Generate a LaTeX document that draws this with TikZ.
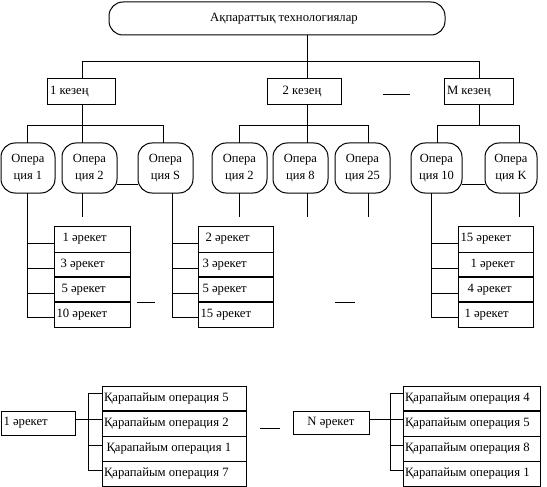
\documentclass[tikz,border=0pt]{standalone}
\usepackage{fontspec}
\setmainfont{Liberation Serif}
\begin{document}
\begin{tikzpicture}[x=1pt,y=-1pt,line width=1pt,font=\fontsize{12.7}{14}\selectfont,
  box/.style={draw,anchor=north west,inner sep=0pt,outer sep=0pt},
  ovalbox/.style={box,rounded corners=14pt,align=center,minimum width=#1,minimum height=50,font=\fontsize{12.5}{17.5}\selectfont},
  txt/.style={anchor=west,inner sep=0pt},
  sepline/.style={line width=1.8pt}]
\useasboundingbox (0,0) rectangle (547,487);

% top
\node[box,rounded corners=14pt,minimum width=336,minimum height=33] (top) at (109,2) {};
\node[inner sep=0pt] (topt) at ([xshift=7pt]top.center) {Ақпараттық технологиялар};

% stages
\node[box,minimum width=68,minimum height=26] (s1) at (47,78.5) {};
\node[txt] (s1t) at ([xshift=2.5pt]s1.west) {1 кезең};
\node[box,minimum width=74,minimum height=26] (s2) at (267,78.5) {};
\node[inner sep=0pt] (s2t) at ([xshift=-2pt]s2.center) {2 кезең};
\node[box,minimum width=69,minimum height=26] (sM) at (444,78.5) {};
\node[txt] (sMt) at ([xshift=2.5pt]sM.west) {M кезең};
\coordinate (ds1) at (383,95); \coordinate (ds2) at (410,95);
\draw (ds1) -- (ds2);

\coordinate (b0L) at (82,62); \coordinate (b0M) at (307,62); \coordinate (b0R) at (479,62);
\draw (top.south -| b0M) -- (b0M);
\draw (s1.north -| b0L) -- (b0L) -- (b0R) -- (sM.north -| b0R);
\draw (s2.north -| b0M) -- (b0M);

% operations
\node[ovalbox=54] (o1) at (1,143) {Опера\\ция 1};
\node[ovalbox=55] (o2) at (62,143) {Опера\\ция 2};
\node[ovalbox=55] (oS) at (138,143) {Опера\\ция S};
\node[ovalbox=55] (o2b) at (212,143) {Опера\\ция 2};
\node[ovalbox=55] (o8) at (273,143) {Опера\\ция 8};
\node[ovalbox=55] (o25) at (335,143) {Опера\\ция 25};
\node[ovalbox=51] (o10) at (411,143) {Опера\\ция 10};
\node[ovalbox=52] (oK) at (485,143) {Опера\\ция K};

% level-2 buses
\coordinate (b1L) at (27,126); \coordinate (b1M) at (82,126); \coordinate (b1R) at (163,126);
\draw (s1.south -| b1M) -- (b1M);
\draw (o1.north -| b1L) -- (b1L) -- (b1R) -- (oS.north -| b1R);
\draw (o2.north -| b1M) -- (b1M);
\coordinate (b2L) at (239,126); \coordinate (b2M) at (307,126); \coordinate (b2R) at (368,126);
\draw (s2.south -| b2M) -- (b2M);
\draw (o2b.north -| b2L) -- (b2L) -- (b2R) -- (o25.north -| b2R);
\draw (o8.north -| b2M) -- (b2M);
\coordinate (b3L) at (437,126); \coordinate (b3M) at (479,126); \coordinate (b3R) at (519,126);
\draw (sM.south -| b3M) -- (b3M);
\draw (o10.north -| b3L) -- (b3L) -- (b3R) -- (oK.north -| b3R);

% dashes between ovals
\draw ([yshift=-16pt]o2.east) -- ([yshift=-16pt]oS.west);
\draw ([yshift=-16pt]o10.east) -- ([yshift=-16pt]oK.west);

% short stubs below ovals
\coordinate (t2) at (82,217); \coordinate (t2b) at (239,217); \coordinate (t8) at (307,217);
\coordinate (t25) at (368,217); \coordinate (tK) at (519,217);
\draw (o2.south -| t2) -- (t2);
\draw (o2b.south -| t2b) -- (t2b);
\draw (o8.south -| t8) -- (t8);
\draw (o25.south -| t25) -- (t25);
\draw (oK.south -| tK) -- (tK);

% group A
\node[box,minimum width=76,minimum height=26] (a1) at (54,226) {};
\node[box,minimum width=76,minimum height=25] (a2) at (54,252) {};
\node[box,minimum width=76,minimum height=25] (a3) at (54,277) {};
\node[box,minimum width=76,minimum height=25] (a4) at (54,302) {};
\node[txt] (a1t) at ([xshift=8pt]a1.west) {1 әрекет};
\node[txt] (a2t) at ([xshift=6pt]a2.west) {3 әрекет};
\node[txt] (a3t) at ([xshift=7pt]a3.west) {5 әрекет};
\node[txt] (a4t) at ([xshift=2pt]a4.west) {10 әрекет};
\draw[sepline] (a2.south west) -- (a2.south east);
\draw[sepline] (a3.south west) -- (a3.south east);

% group B
\node[box,minimum width=75,minimum height=26] (b1) at (198,226) {};
\node[box,minimum width=75,minimum height=25] (b2) at (198,252) {};
\node[box,minimum width=75,minimum height=25] (b3) at (198,277) {};
\node[box,minimum width=75,minimum height=25] (b4) at (198,302) {};
\node[txt] (b1t) at ([xshift=7pt]b1.west) {2 әрекет};
\node[txt] (b2t) at ([xshift=4pt]b2.west) {3 әрекет};
\node[txt] (b3t) at ([xshift=4pt]b3.west) {5 әрекет};
\node[txt] (b4t) at ([xshift=2pt]b4.west) {15 әрекет};
\draw[sepline] (b2.south west) -- (b2.south east);
\draw[sepline] (b3.south west) -- (b3.south east);

% group C
\node[box,minimum width=75,minimum height=26] (c1) at (458,226) {};
\node[box,minimum width=75,minimum height=25] (c2) at (458,252) {};
\node[box,minimum width=75,minimum height=25] (c3) at (458,277) {};
\node[box,minimum width=75,minimum height=25] (c4) at (458,302) {};
\node[txt] (c1t) at ([xshift=2pt]c1.west) {15 әрекет};
\node[txt] (c2t) at ([xshift=12pt]c2.west) {1 әрекет};
\node[txt] (c3t) at ([xshift=9pt]c3.west) {4 әрекет};
\node[txt] (c4t) at ([xshift=6pt]c4.west) {1 әрекет};
\draw[sepline] (c2.south west) -- (c2.south east);
\draw[sepline] (c3.south west) -- (c3.south east);

% branch connectors
\coordinate (vA) at (27,0); \coordinate (vB) at (172,0); \coordinate (vC) at (431,0);
\foreach \g/\v/\o in {a/vA/o1,b/vB/oS,c/vC/o10}{
  \foreach \i in {1,2,3}{
    \coordinate (\g\i p) at ([yshift=-4pt]\g\i.west);
    \draw (\g\i p) -- (\g\i p -| \v);
  }
  \coordinate (\g4p) at ([yshift=-2.5pt]\g4.west);
  \draw (\o.south -| \v) |- (\g4p);
}

% dashes between groups
\coordinate (dA1) at (137,302); \coordinate (dA2) at (155,302);
\coordinate (dB1) at (335,302); \coordinate (dB2) at (355,302);
\draw (dA1) -- (dA2);
\draw (dB1) -- (dB2);

% bottom left
\node[box,minimum width=74,minimum height=24] (e1) at (1,411) {};
\node[txt] (e1t) at ([xshift=2pt]e1.west) {1 әрекет};
\node[box,minimum width=144,minimum height=25] (q1) at (102,386) {};
\node[box,minimum width=144,minimum height=25] (q2) at (102,411) {};
\node[box,minimum width=144,minimum height=25] (q3) at (102,436) {};
\node[box,minimum width=144,minimum height=25] (q4) at (102,461) {};
\node[txt] (q1t) at ([xshift=1.5pt]q1.west) {Қарапайым операция 5};
\node[txt] (q2t) at ([xshift=1.5pt]q2.west) {Қарапайым операция 2};
\node[txt] (q3t) at ([xshift=4pt]q3.west) {Қарапайым операция 1};
\node[txt] (q4t) at ([xshift=1.5pt]q4.west) {Қарапайым операция 7};
\draw[sepline] (q1.south west) -- (q1.south east);

% bottom right
\node[box,minimum width=76,minimum height=23] (eN) at (293,411) {N әрекет};
\node[box,minimum width=137,minimum height=25] (r1) at (403,386) {};
\node[box,minimum width=137,minimum height=25] (r2) at (403,411) {};
\node[box,minimum width=137,minimum height=25] (r3) at (403,436) {};
\node[box,minimum width=137,minimum height=25] (r4) at (403,461) {};
\node[txt] (r1t) at ([xshift=1.5pt]r1.west) {Қарапайым операция 4};
\node[txt] (r2t) at ([xshift=1.5pt]r2.west) {Қарапайым операция 5};
\node[txt] (r3t) at ([xshift=1.5pt]r3.west) {Қарапайым операция 8};
\node[txt] (r4t) at ([xshift=1.5pt]r4.west) {Қарапайым операция 1};
\draw[sepline] (r1.south west) -- (r1.south east);

\coordinate (vq) at (88,0); \coordinate (vr) at (390,0);
\foreach \g/\v in {q/vq,r/vr}{
  \coordinate (\g1p) at ([yshift=5.5pt]\g1.west);
  \coordinate (\g2p) at ([yshift=4.5pt]\g2.west);
  \coordinate (\g3p) at ([yshift=3.5pt]\g3.west);
  \coordinate (\g4p) at ([yshift=3.5pt]\g4.west);
  \draw (\g1p -| \v) -- (\g4p -| \v);
  \foreach \i in {1,3,4}{ \draw (\g\i p) -- (\g\i p -| \v); }
}
\draw (e1.east |- q2p) -- (q2p);
\draw (eN.east |- r2p) -- (r2p);

\coordinate (dq1) at (260,428); \coordinate (dq2) at (280,428);
\draw (dq1) -- (dq2);
\end{tikzpicture}
\end{document}
